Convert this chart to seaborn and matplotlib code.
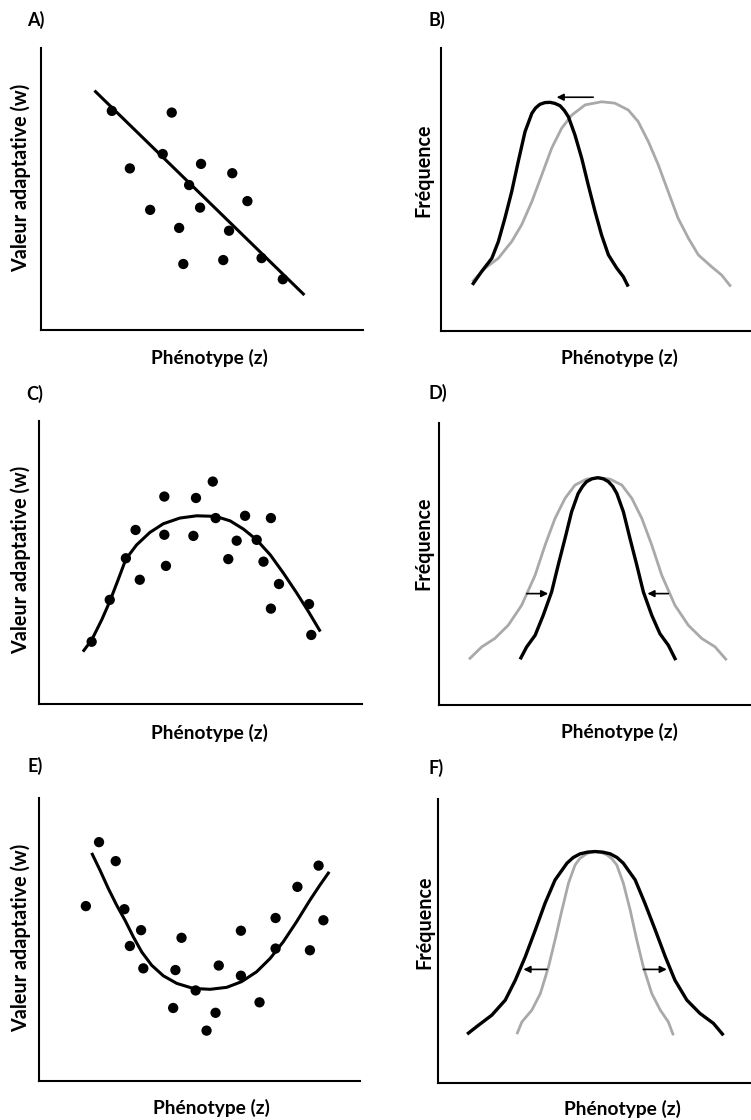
"""
Six-panel figure: selection types (directional, stabilizing, disruptive).
"""

import numpy as np
import pandas as pd
import matplotlib
matplotlib.use("Agg")
import matplotlib.pyplot as plt
import seaborn as sns

# ---- data (axes units 0-100) ----
# A) directional: fitness vs phenotype
a_x = [22.0, 40.6, 37.8, 27.6, 49.7, 59.4, 46.0, 64.1, 33.9, 49.4, 42.9, 58.4, 44.2, 56.6, 68.5, 75.1]
a_y = [77.7, 77.1, 62.4, 57.3, 58.9, 55.6, 51.4, 45.7, 42.6, 43.4, 36.2, 35.2, 23.4, 24.8, 25.5, 18.0]
a_fit_x = [16.6, 81.8]
a_fit_y = [84.9, 12.4]

# B) frequency distributions, shifted to the left
b_after_x = [10.1, 13.1, 16.4, 18.5, 20.6, 22.8, 24.9, 27.1, 29.3, 30.5, 31.9, 33.5, 35.2, 36.8,
             38.4, 39.8, 41.1, 43.2, 45.4, 47.5, 49.7, 51.8, 54.0, 56.7, 58.8, 60.4]
b_after_y = [16.3, 21.0, 25.7, 31.6, 39.8, 49.2, 59.8, 70.4, 76.9, 78.8, 80.1, 80.7, 80.8, 80.4,
             79.6, 77.9, 75.7, 69.3, 61.0, 51.6, 42.2, 33.9, 26.9, 22.2, 19.2, 15.7]
b_before_x = [10.1, 14.2, 18.5, 22.8, 26.0, 29.3, 32.5, 35.7, 38.9, 42.2, 46.5, 51.8, 56.1, 60.4,
              63.6, 66.9, 70.1, 73.3, 76.5, 79.8, 83.0, 87.3, 90.5, 93.5]
b_before_y = [17.4, 22.2, 25.7, 31.6, 37.5, 45.7, 55.1, 64.6, 71.6, 76.3, 79.9, 81.0, 80.5, 78.1,
              74.0, 66.9, 58.7, 49.2, 39.8, 32.8, 26.9, 22.7, 19.8, 15.7]

# C) stabilizing: fitness vs phenotype
c_x = [16.3, 21.9, 26.9, 29.9, 31.2, 38.8, 38.8, 39.3, 47.8, 48.6, 53.8, 54.7, 58.6, 61.2, 63.8,
       67.4, 69.5, 71.8, 71.8, 74.3, 83.6, 84.3]
c_y = [22.0, 36.8, 51.5, 61.5, 43.9, 73.3, 59.8, 48.8, 59.4, 72.8, 78.6, 65.7, 51.2, 57.7, 66.5,
       58.0, 50.3, 65.7, 33.7, 42.4, 35.3, 24.4]
c_fit_x = [13.6, 16.3, 19.4, 21.9, 24.5, 26.9, 30.2, 34.3, 38.5, 43.6, 48.8, 54.7, 59.2, 63.3,
           67.4, 71.6, 75.7, 79.8, 83.4, 87.1]
c_fit_y = [18.5, 22.6, 29.7, 36.2, 43.9, 51.2, 56.2, 60.6, 63.7, 65.7, 66.5, 66.3, 64.7, 61.8,
           58.0, 52.7, 46.2, 39.2, 32.7, 25.6]

# D) frequency distributions, narrowed
d_after_x = [26.0, 28.1, 30.8, 33.4, 36.1, 38.2, 40.4, 42.5, 44.6, 46.0, 47.3, 49.0, 50.9, 52.7,
             54.3, 55.7, 57.0, 59.1, 61.2, 63.4, 65.5, 68.2, 70.8, 73.5, 75.9]
d_after_y = [16.2, 20.6, 24.7, 31.8, 40.1, 49.6, 59.1, 68.5, 75.0, 77.5, 79.2, 80.2, 80.6, 80.2,
             79.2, 77.5, 75.0, 68.5, 59.1, 49.6, 40.1, 31.8, 25.3, 21.2, 15.9]
d_before_x = [9.6, 13.7, 17.9, 22.2, 26.5, 30.8, 34.0, 37.2, 40.4, 43.6, 47.3, 51.1, 54.8, 58.6,
              61.8, 65.0, 68.2, 71.4, 75.6, 79.9, 84.2, 88.5, 92.2]
d_before_y = [16.2, 20.6, 23.6, 28.3, 35.4, 46.0, 56.7, 66.2, 73.3, 78.0, 80.1, 80.6, 80.1, 78.0,
              73.3, 66.2, 56.7, 46.0, 35.4, 28.3, 23.6, 20.6, 15.9]

# E) disruptive: fitness vs phenotype
e_x = [14.6, 18.7, 23.9, 26.6, 28.3, 31.8, 32.5, 41.8, 42.5, 44.4, 48.8, 52.2, 55.0, 56.0, 62.9,
       62.9, 68.7, 73.7, 73.7, 80.5, 84.4, 87.1, 88.6]
e_y = [61.8, 84.4, 77.7, 60.7, 47.7, 53.3, 39.8, 25.8, 39.2, 50.6, 32.0, 17.8, 24.1, 40.8, 53.1,
       37.2, 27.8, 57.6, 46.8, 68.6, 46.2, 76.1, 56.8]
e_fit_x = [16.4, 19.0, 21.6, 24.2, 26.8, 29.4, 32.0, 35.1, 38.7, 42.9, 48.1, 53.3, 58.5, 63.1,
           67.8, 72.0, 76.1, 80.2, 84.4, 87.5, 90.4]
e_fit_y = [80.6, 74.5, 68.0, 62.1, 56.8, 50.9, 45.6, 40.9, 37.2, 34.5, 32.7, 32.4, 33.1, 35.1,
           38.6, 43.3, 49.2, 56.2, 63.9, 69.2, 73.9]

# F) frequency distributions, widened
f_after_x = [9.3, 13.0, 17.2, 21.5, 24.7, 27.9, 31.1, 34.2, 37.4, 41.2, 43.2, 45.4, 47.8, 50.2,
             52.6, 55.0, 57.2, 59.2, 63.0, 66.1, 69.4, 72.6, 75.7, 79.5, 83.7, 88.0, 91.2]
f_after_y = [17.2, 20.4, 23.9, 29.2, 36.2, 44.5, 53.9, 63.3, 71.5, 77.4, 79.4, 80.7, 81.3, 81.5,
             81.3, 80.7, 79.4, 77.4, 71.5, 63.3, 53.9, 44.5, 36.2, 29.2, 24.5, 21.0, 16.8]
f_before_x = [25.2, 26.8, 30.0, 32.7, 35.3, 37.4, 39.6, 41.7, 43.8, 45.3, 47.0, 48.6, 50.2, 52.0,
              53.9, 55.5, 57.1, 59.2, 61.4, 63.5, 65.6, 68.3, 71.0, 73.6, 75.2]
f_before_y = [17.2, 21.5, 25.7, 31.5, 40.9, 50.4, 60.9, 70.4, 76.8, 79.0, 80.4, 81.2, 81.5, 81.2,
              80.4, 79.0, 76.8, 70.4, 60.9, 50.4, 40.9, 31.5, 25.7, 21.5, 16.8]

# arrows: (x_from, x_to, y)
b_arrows = [(49.1, 37.3, 82.6)]
d_arrows = [(28.1, 35.0, 39.5), (73.5, 66.8, 39.5)]
f_arrows = [(34.8, 27.3, 40.0), (65.6, 73.1, 40.0)]

XLABEL = "Phénotype (z)"
YLABEL_FIT = "Valeur adaptative (w)"
YLABEL_FREQ = "Fréquence"

# ---- layout (pixels: left, top, right, bottom) ----
W, H = 751, 1120
boxes = {
    "A": (41, 48, 363, 330),
    "B": (441, 48, 751, 331),
    "C": (39, 421, 362, 704),
    "D": (439, 423, 751, 705),
    "E": (39, 798, 360, 1081),
    "F": (438, 799, 751, 1083),
}
letter_pos = {"A": (36, 20), "B": (437, 20), "C": (35, 394), "D": (438, 393),
              "E": (35, 766), "F": (436, 768)}
GREY = "#a9a9a9"

sns.set_theme(style="white")
plt.rcParams["font.family"] = ["Lato", "DejaVu Sans"]

fig = plt.figure(figsize=(W / 100, H / 100), dpi=100)
LINE_KW = dict(sort=False, estimator=None, solid_joinstyle="round", solid_capstyle="butt")


def make_axes(key):
    l, t, r, b = boxes[key]
    ax = fig.add_axes([l / W, 1 - b / H, (r - l) / W, (b - t) / H])
    ax.set_xlim(0, 100)
    ax.set_ylim(0, 100)
    ax.set_xticks([])
    ax.set_yticks([])
    for s in ["top", "right"]:
        ax.spines[s].set_visible(False)
    for s in ["left", "bottom"]:
        ax.spines[s].set_color("black")
        ax.spines[s].set_linewidth(1.5)
    x, y = letter_pos[key]
    fig.text(x / W, 1 - y / H, key + ")", ha="center", va="center",
             fontsize=13, fontweight="bold", color="black")
    return ax


def label(ax, ylabel, xl_pos, yl_pos):
    ax.set_xlabel("")
    ax.set_ylabel("")
    ax.text(*xl_pos, XLABEL, transform=ax.transAxes, ha="center", va="center",
            fontsize=13.8, fontweight="bold", color="black")
    ax.text(*yl_pos, ylabel, transform=ax.transAxes, ha="center", va="center",
            rotation=90, fontsize=14.2, fontweight="bold", color="black")


def fitness_panel(key, xs, ys, fx, fy, yl_pos, xl_pos):
    ax = make_axes(key)
    sns.lineplot(x=fx, y=fy, ax=ax, color="black", lw=2.2, **LINE_KW)
    sns.scatterplot(x=xs, y=ys, ax=ax, color="black", s=55, edgecolor="none", zorder=3)
    label(ax, YLABEL_FIT, xl_pos, yl_pos)
    return ax


def freq_panel(key, ax_, ay_, bx_, by_, arrows, yl_pos, xl_pos):
    ax = make_axes(key)
    sns.lineplot(x=bx_, y=by_, ax=ax, color=GREY, lw=2.0, **LINE_KW)
    sns.lineplot(x=ax_, y=ay_, ax=ax, color="black", lw=2.4, **LINE_KW)
    for x0, x1, y in arrows:
        ax.annotate("", xy=(x1, y), xytext=(x0, y),
                    arrowprops=dict(arrowstyle="-|>", color="black", lw=1.2,
                                    mutation_scale=10, shrinkA=0, shrinkB=0))
    label(ax, YLABEL_FREQ, xl_pos, yl_pos)
    return ax


fitness_panel("A", a_x, a_y, a_fit_x, a_fit_y, (-0.062, 0.54), (0.523, -0.099))
freq_panel("B", b_after_x, b_after_y, b_before_x, b_before_y, b_arrows, (-0.056, 0.569), (0.576, -0.095))
fitness_panel("C", c_x, c_y, c_fit_x, c_fit_y, (-0.057, 0.509), (0.527, -0.102))
freq_panel("D", d_after_x, d_after_y, d_before_x, d_before_y, d_arrows, (-0.050, 0.573), (0.578, -0.097))
fitness_panel("E", e_x, e_y, e_fit_x, e_fit_y, (-0.056, 0.507), (0.536, -0.097))
freq_panel("F", f_after_x, f_after_y, f_before_x, f_before_y, f_arrows, (-0.045, 0.567), (0.590, -0.09))

fig.savefig("out.png", dpi=100)
